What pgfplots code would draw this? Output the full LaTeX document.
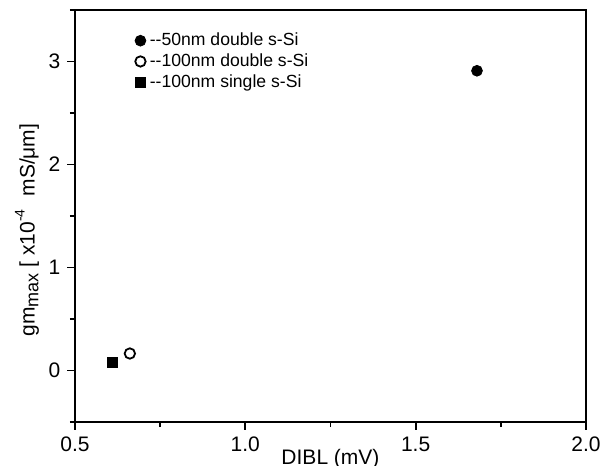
\documentclass[border=0pt]{standalone}
\usepackage{fontspec}
\setmainfont{Liberation Sans}
\usepackage{pgfplots}
\pgfplotsset{compat=1.18}

\begin{document}
\begin{tikzpicture}
\begin{axis}[
  name=ax,
  scale only axis,
  width=255.5pt, height=206pt,
  xmin=0.5, xmax=2.0,
  ymin=-0.5, ymax=3.5,
  xtick={0.5,1.0,1.5,2.0},
  ytick={0,1,2,3},
  minor xtick={0.75,1.25,1.75},
  minor ytick={-0.5,0.5,1.5,2.5,3.5},
  xtick pos=bottom, ytick pos=left,
  tick align=outside,
  major tick length=3.8pt, minor tick length=2.5pt,
  every tick/.style={line width=0.9pt, black},
  axis line style={line width=1pt},
  xticklabel style={/pgf/number format/.cd, fixed, fixed zerofill, precision=1},
  /pgf/number format/assume math mode=true,
  tick label style={font=\fontsize{10.5}{12}\selectfont},
  label style={font=\fontsize{10.5}{12}\selectfont},
  xlabel={DIBL (mV)},
  ylabel={gm\raisebox{-0.35ex}{\fontsize{9}{9}\selectfont max} [ x10\raisebox{0.9ex}{\fontsize{7}{8}\selectfont -4}\,\, mS/μm]},
  xlabel style={yshift=8pt},
  ylabel style={yshift=-2pt, xshift=-7pt},
  legend style={draw=none, fill=none, at={(0.105,0.965)}, anchor=north west,
    font=\fontsize{8.8}{10}\selectfont, row sep=-1.5pt,
    /tikz/every even column/.append style={column sep=0pt}},
  legend cell align=left,
  legend image code/.code={\draw[#1] plot coordinates {(0.15cm,0cm)};},
]
\addplot[only marks, mark=*, mark size=2.7pt, black]
  coordinates {(1.68,2.91)};
\addlegendentry{{-}{-}50nm double s-Si}
\addplot[only marks, mark=o, mark size=2.6pt, black, line width=0.9pt]
  coordinates {(0.661,0.165)};
\addlegendentry{{-}{-}100nm double s-Si}
\addplot[only marks, mark=square*, mark size=2.5pt, black]
  coordinates {(0.609,0.078)};
\addlegendentry{{-}{-}100nm single s-Si}
\end{axis}
\pgfresetboundingbox
\path ([shift={(-37.5pt,-22pt)}]ax.south west) rectangle ([shift={(7pt,5pt)}]ax.north east);
\end{tikzpicture}
\end{document}
